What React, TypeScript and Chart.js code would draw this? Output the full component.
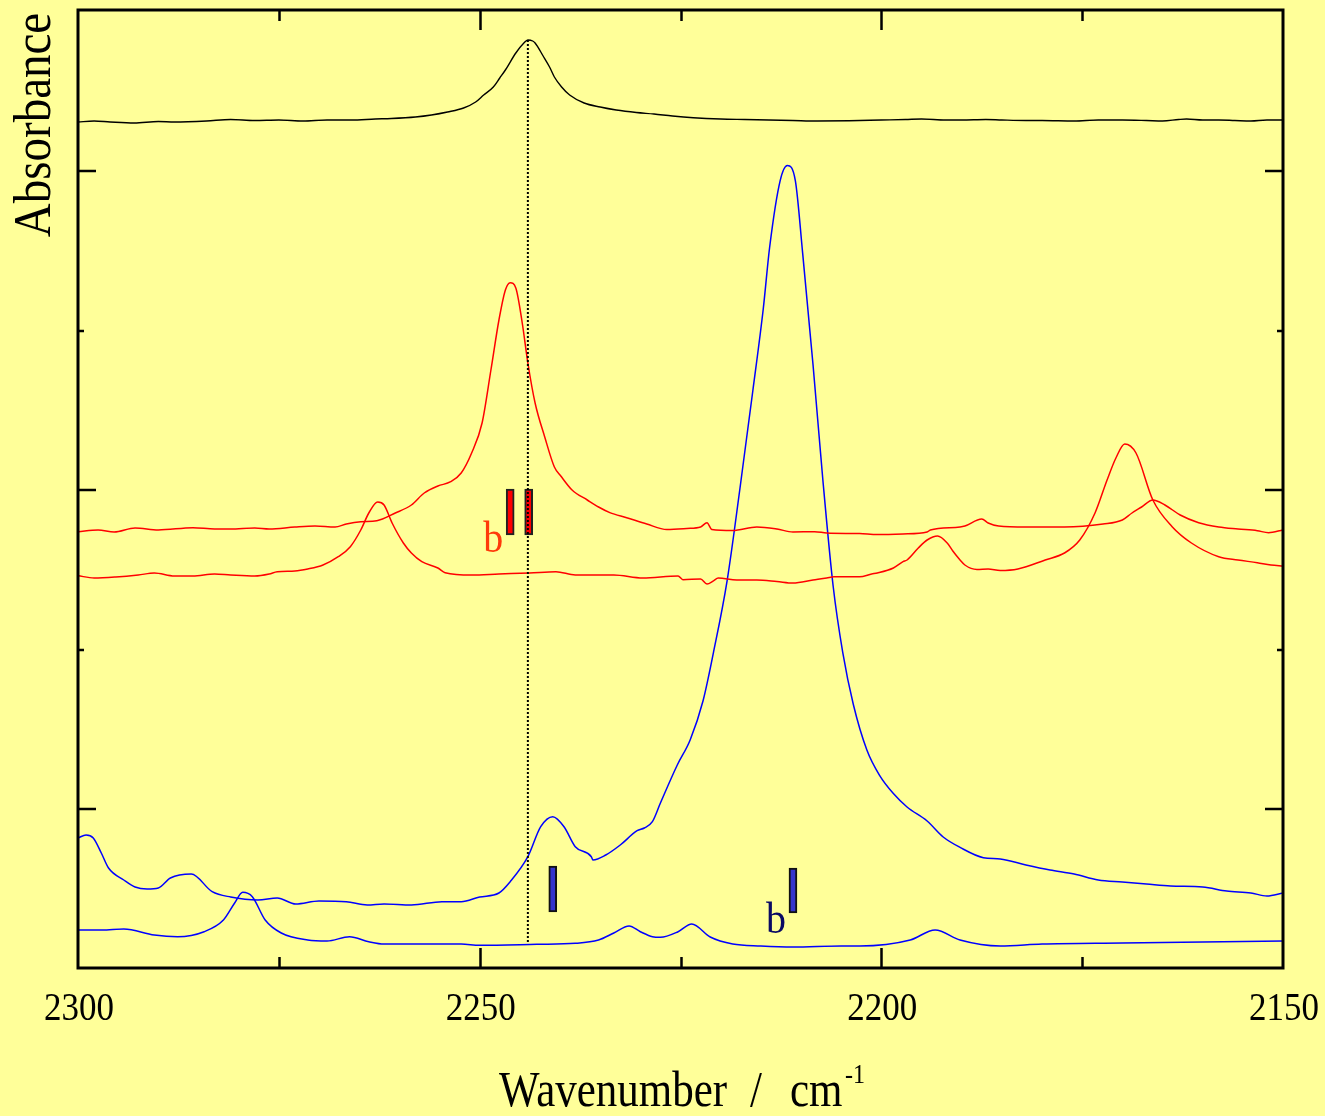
import React, { useEffect, useRef } from 'react';
import { Chart, registerables } from 'chart.js';

Chart.register(...registerables);

// ---------- data (x = wavenumber / cm-1, y = absorbance, arbitrary offset units) ----------
const xLabelValues = [2300, 2250, 2200, 2150];
const xMajorTicks = [2250, 2200];
const xMinorTicks = [2275, 2225, 2175];
const yMajorTicks = [159, 478, 797];
const yMinorTicks = [318.5, 637.5];

const blackTrace: number[][] = [
  [2300, 846], [2298, 847], [2296, 846], [2293, 845], [2290, 846.5], [2288, 846], [2284, 847], [2281, 848.5],
  [2278, 847.5], [2275, 848], [2272, 847], [2269, 848], [2266, 848], [2263, 849], [2261, 849.5], [2258, 851],
  [2256, 853], [2254, 856], [2252, 860], [2250.5, 866], [2249.5, 873], [2248.3, 881], [2247.5, 890],
  [2246.8, 898], [2245.5, 915], [2244.5, 925], [2244.0, 928], [2243.4, 927], [2243.1, 925], [2242.1, 912],
  [2241.3, 901], [2240.7, 891], [2239.8, 881], [2238.8, 873], [2237, 865], [2235, 861], [2233, 858],
  [2230.5, 855.5], [2228.3, 854], [2226, 852], [2223.4, 850.3], [2220, 849], [2217, 848.5], [2214, 848],
  [2211, 847.5], [2208, 847], [2204, 847.3], [2200, 848], [2197, 848.5], [2195, 849], [2192, 848],
  [2190, 848], [2187, 848.5], [2185, 848], [2182, 847.5], [2180, 847.5], [2176, 847], [2173, 848],
  [2170, 848], [2167, 847.5], [2165, 847], [2163, 848.5], [2162, 849], [2160, 848], [2158, 848],
  [2156, 847.5], [2154, 847], [2152, 848], [2150, 848],
];

const redTraceA: number[][] = [
  [2300, 436.3], [2297.5, 438], [2295.5, 436], [2292.9, 440], [2290, 438], [2285.7, 440.3], [2283, 439],
  [2281, 439], [2278, 440], [2276.2, 439], [2273, 441], [2270.5, 442], [2268, 441], [2266.6, 444],
  [2264.8, 446.3], [2262.8, 447.3], [2260.5, 455], [2258.5, 463], [2256.9, 475], [2255.2, 482],
  [2253.6, 486.3], [2252.3, 495], [2251.0, 515], [2249.7, 545], [2248.6, 598], [2247.6, 648],
  [2246.8, 678], [2246.2, 685.3], [2245.5, 680], [2244.7, 645], [2244.0, 605], [2243.1, 565],
  [2241.9, 531], [2240.7, 501], [2239.9, 492], [2238.5, 478], [2236.6, 468], [2235.2, 461],
  [2233.8, 455.4], [2231.7, 450.3], [2229.2, 444], [2226.7, 438.5], [2224.2, 439.5], [2222.5, 441],
  [2221.7, 445.3], [2221.1, 438.5], [2218.5, 437.5], [2215.5, 441], [2213, 439], [2211.0, 436],
  [2208.3, 436.3], [2206.8, 435], [2202.7, 434.4], [2200.5, 433.4], [2197.3, 434], [2194.3, 436],
  [2193.9, 438], [2190.2, 441], [2189.6, 442], [2187.5, 449], [2186.7, 445], [2185.4, 442],
  [2182.0, 441], [2177.2, 441], [2172.4, 444], [2170.0, 448], [2168.8, 455], [2167.6, 461],
  [2166.2, 468], [2164.7, 463], [2162.8, 453], [2160.5, 445.3], [2158.0, 441], [2155.6, 439],
  [2153.2, 437.3], [2151.8, 435.3], [2150, 438],
];

const redTraceB: number[][] = [
  [2300, 392.3], [2298, 390], [2295.3, 391], [2292.5, 393], [2290.5, 395], [2288, 392], [2285.7, 392],
  [2283, 394], [2281.0, 393], [2278, 392], [2276.2, 394], [2275.2, 396.3], [2273, 397], [2271.4, 399],
  [2269.5, 403], [2267.6, 411.3], [2266.1, 421.3], [2264.8, 438], [2263.8, 455], [2262.7, 466],
  [2261.9, 463], [2260.9, 445], [2259.5, 425], [2258.5, 415], [2257.2, 406.3], [2255.2, 400],
  [2254.3, 395.3], [2251.0, 393], [2247.6, 394], [2243.8, 395], [2240.5, 396.3], [2238.1, 393],
  [2233.3, 393], [2229.7, 390], [2225.3, 392], [2224.7, 388.3], [2222.5, 389], [2221.7, 384],
  [2220.9, 387.2], [2220.3, 390], [2218, 388], [2215.5, 388], [2213, 386.5], [2211.0, 385],
  [2208.5, 388], [2206.8, 390], [2205.9, 391.3], [2202.7, 391.3], [2201.2, 394], [2200.5, 395],
  [2198.5, 400], [2197.3, 406.3], [2196.8, 408], [2195.4, 420], [2194.3, 428],
  [2193.0, 432], [2191.8, 425], [2191.1, 417], [2190.2, 408], [2189.6, 403], [2188.1, 398.5],
  [2186.7, 399], [2185.2, 397.5], [2183.0, 399], [2179.6, 408], [2177.2, 415], [2175.3, 428],
  [2173.4, 455], [2171.9, 488], [2170.8, 510], [2169.7, 524], [2168.3, 515], [2166.2, 468],
  [2163.8, 441.3], [2161.4, 425], [2158.0, 411.3], [2155.6, 408], [2153.2, 405.3], [2151.5, 403],
  [2150, 402],
];

const blueTraceA: number[][] = [
  [2300, 130], [2299.0, 133], [2298.1, 130], [2297.1, 115], [2296.2, 100], [2294.3, 88], [2292.9, 81],
  [2291.4, 79], [2290.0, 80], [2288.5, 90], [2285.9, 94], [2283.3, 76.3], [2281.0, 71], [2277.6, 68],
  [2275.2, 70], [2272.9, 64], [2270, 67], [2266.6, 66.3], [2264, 63], [2261.9, 64], [2258.5, 63],
  [2254.7, 66.3], [2252.3, 66.3], [2250.0, 71], [2247.6, 75], [2246.2, 86.3], [2244.0, 111.3],
  [2242.4, 141.3], [2240.9, 151.3], [2239.5, 141.3], [2238.1, 121.3], [2236.1, 111.3], [2235.9, 108],
  [2234.3, 113], [2232.5, 123], [2230.4, 137.3], [2229.5, 140], [2228.5, 146.3], [2227.5, 165],
  [2225.4, 203], [2223.8, 228], [2222.2, 267], [2220.9, 315.4], [2219.2, 387.2], [2217.6, 479.5],
  [2216.0, 577], [2214.7, 659], [2213.9, 721], [2212.6, 787.2], [2211.7, 802.6], [2210.7, 787.2],
  [2209.8, 715.4], [2208.5, 603], [2207.3, 490], [2206.0, 382], [2204.8, 315.4], [2203.5, 264],
  [2201.8, 218], [2200.2, 192.4], [2198.5, 174.4], [2196.8, 161], [2194.3, 147], [2192.3, 131],
  [2190.2, 120.6], [2187.3, 110.3], [2185.2, 109], [2182, 103], [2179, 98], [2176, 94], [2173, 88],
  [2170, 86], [2167, 84], [2164, 82], [2160, 81], [2157, 77], [2154, 75], [2152, 72], [2150, 75],
];

const blueTraceB: number[][] = [
  [2300, 38], [2297, 38], [2294.3, 39], [2290.5, 33], [2287.6, 31.3], [2284.3, 36.3], [2281.9, 48],
  [2280.5, 65], [2279.5, 75.7], [2278.3, 71.3], [2276.7, 48], [2274.7, 35], [2271.4, 28], [2269.0, 27],
  [2266.2, 31.3], [2263.8, 26.3], [2261.9, 24], [2252.3, 24], [2250.0, 22.7], [2242.9, 23.7],
  [2238.1, 24.7], [2235.2, 28], [2233.3, 35], [2231.4, 42], [2230.0, 36.3], [2228.5, 31.3],
  [2227.5, 30.7], [2225.3, 36.3], [2223.6, 44], [2221.3, 31], [2218.5, 24], [2215, 22], [2211.0, 21],
  [2205, 22], [2202.7, 22], [2196.4, 28], [2193.3, 38], [2190.2, 28], [2185.2, 22], [2180, 24],
  [2170, 25], [2160, 26], [2150, 27],
];

const markerLine: number[][] = [[2244.0, 928], [2244.0, 25]];
const redBars: number[][] = [[2246.2, 433, 479], [2243.9, 433, 479]];
const blueBars: number[][] = [[2240.9, 56, 102], [2211.0, 55, 100]];
const bLabelPos: number[][] = [[2248.3, 416], [2213.1, 35]];
const bLabelColors = ['#ff3a0a', '#0a0a64'];

const BG = '#ffff99';
const SERIF = '"Liberation Serif", "Times New Roman", serif';

const toXY = (arr: number[][]) => arr.map(([x, y]) => ({ x, y }));

function stretchedText(ctx: CanvasRenderingContext2D, text: string, x: number, y: number, sy: number) {
  ctx.save();
  ctx.translate(x, y);
  ctx.scale(1, sy);
  ctx.fillText(text, 0, 0);
  ctx.restore();
}

const framePlugin = {
  id: 'frame',
  afterDatasetsDraw(chart: any) {
    const { ctx, chartArea: a, scales } = chart;
    const xs = scales.x;
    const ys = scales.y;
    ctx.save();
    ctx.strokeStyle = '#000';
    ctx.lineWidth = 3;
    ctx.strokeRect(a.left, a.top, a.right - a.left, a.bottom - a.top);
    ctx.lineWidth = 2.5;
    ctx.beginPath();
    const xt = (v: number, len: number) => {
      const px = Math.round(xs.getPixelForValue(v)) + 0.5;
      ctx.moveTo(px, a.bottom);
      ctx.lineTo(px, a.bottom - len);
      ctx.moveTo(px, a.top);
      ctx.lineTo(px, a.top + len);
    };
    xMajorTicks.forEach((v) => xt(v, 20));
    xMinorTicks.forEach((v) => xt(v, 11));
    const yt = (v: number, len: number) => {
      const py = Math.round(ys.getPixelForValue(v));
      ctx.moveTo(a.left, py);
      ctx.lineTo(a.left + len, py);
      ctx.moveTo(a.right, py);
      ctx.lineTo(a.right - len, py);
    };
    yMajorTicks.forEach((v) => yt(v, 18));
    yMinorTicks.forEach((v) => yt(v, 6));
    ctx.stroke();
    ctx.restore();
  },
  afterDraw(chart: any) {
    const { ctx, chartArea: a, scales } = chart;
    const xs = scales.x;
    const ys = scales.y;
    ctx.save();
    ctx.fillStyle = '#000';
    ctx.textBaseline = 'alphabetic';
    // tick labels
    ctx.font = `35px ${SERIF}`;
    ctx.textAlign = 'center';
    xLabelValues.forEach((v) => {
      stretchedText(ctx, String(v), xs.getPixelForValue(v) + 1, a.bottom + 52, 1.15);
    });
    // x title
    ctx.font = `43px ${SERIF}`;
    ctx.textAlign = 'left';
    stretchedText(ctx, 'Wavenumber', 499, 1106, 1.17);
    stretchedText(ctx, '/', 750, 1106, 1.17);
    stretchedText(ctx, 'cm', 790, 1106, 1.17);
    ctx.font = `24px ${SERIF}`;
    stretchedText(ctx, '-1', 845, 1083, 1.15);
    // y title
    ctx.save();
    ctx.translate(50, 125);
    ctx.rotate(-Math.PI / 2);
    ctx.scale(1, 1.12);
    ctx.font = `47px ${SERIF}`;
    ctx.textAlign = 'center';
    ctx.fillText('Absorbance', 0, 0);
    ctx.restore();
    // b labels
    ctx.font = `40px ${SERIF}`;
    ctx.textAlign = 'center';
    bLabelPos.forEach(([wn, yv], i) => {
      ctx.fillStyle = bLabelColors[i];
      stretchedText(ctx, 'b', xs.getPixelForValue(wn), ys.getPixelForValue(yv), 1.1);
    });
    ctx.restore();
  },
};

const lineDs = (label: string, arr: number[][], color: string, width = 1.5) => ({
  type: 'line' as const,
  label,
  data: toXY(arr),
  borderColor: color,
  borderWidth: width,
  pointRadius: 0,
  cubicInterpolationMode: 'monotone' as const,
  fill: false,
  order: 3,
});

export default function App() {
  const ref = useRef<HTMLCanvasElement | null>(null);
  useEffect(() => {
    if (!ref.current) return;
    const chart = new Chart(ref.current, {
      type: 'line',
      data: {
        datasets: [
          {
            type: 'line',
            label: 'marker',
            data: toXY(markerLine),
            borderColor: '#000',
            borderWidth: 2,
            borderDash: [2, 2],
            pointRadius: 0,
            order: 0,
          },
          {
            type: 'bar',
            label: 'red bands',
            data: redBars.map(([x, a, b]) => ({ x, y: [a, b] })),
            backgroundColor: '#ff0000',
            borderColor: '#222',
            borderWidth: 2,
            borderSkipped: false,
            barThickness: 8,
            grouped: false,
            order: 1,
          } as any,
          {
            type: 'bar',
            label: 'blue bands',
            data: blueBars.map(([x, a, b]) => ({ x, y: [a, b] })),
            backgroundColor: '#3535cc',
            borderColor: '#111',
            borderWidth: 2,
            borderSkipped: false,
            barThickness: 8,
            grouped: false,
            order: 1,
          } as any,
          lineDs('black', blackTrace, '#000000', 1.4),
          lineDs('red A', redTraceA, '#ff0000'),
          lineDs('red B', redTraceB, '#ff0000'),
          lineDs('blue A', blueTraceA, '#0000ff'),
          lineDs('blue B', blueTraceB, '#0000ff'),
        ],
      },
      options: {
        animation: false,
        responsive: false,
        maintainAspectRatio: false,
        layout: { padding: { top: 10, right: 42, left: 0, bottom: 0 } },
        plugins: { legend: { display: false }, tooltip: { enabled: false } },
        scales: {
          x: {
            type: 'linear',
            min: 2150,
            max: 2300,
            reverse: true,
            offset: false,
            grid: { display: false },
            border: { display: false },
            ticks: { display: false },
            afterFit: (s: any) => { s.height = 148; },
          },
          y: {
            type: 'linear',
            min: 0,
            max: 958,
            grid: { display: false },
            border: { display: false },
            ticks: { display: false },
            afterFit: (s: any) => { s.width = 78; },
          },
        },
      } as any,
      plugins: [framePlugin],
    });
    return () => chart.destroy();
  }, []);
  return (
    <div style={{ position: 'fixed', left: 0, top: 0, width: 1325, height: 1116, background: BG }}>
      <canvas ref={ref} width={1325} height={1116} style={{ display: 'block' }} />
    </div>
  );
}
